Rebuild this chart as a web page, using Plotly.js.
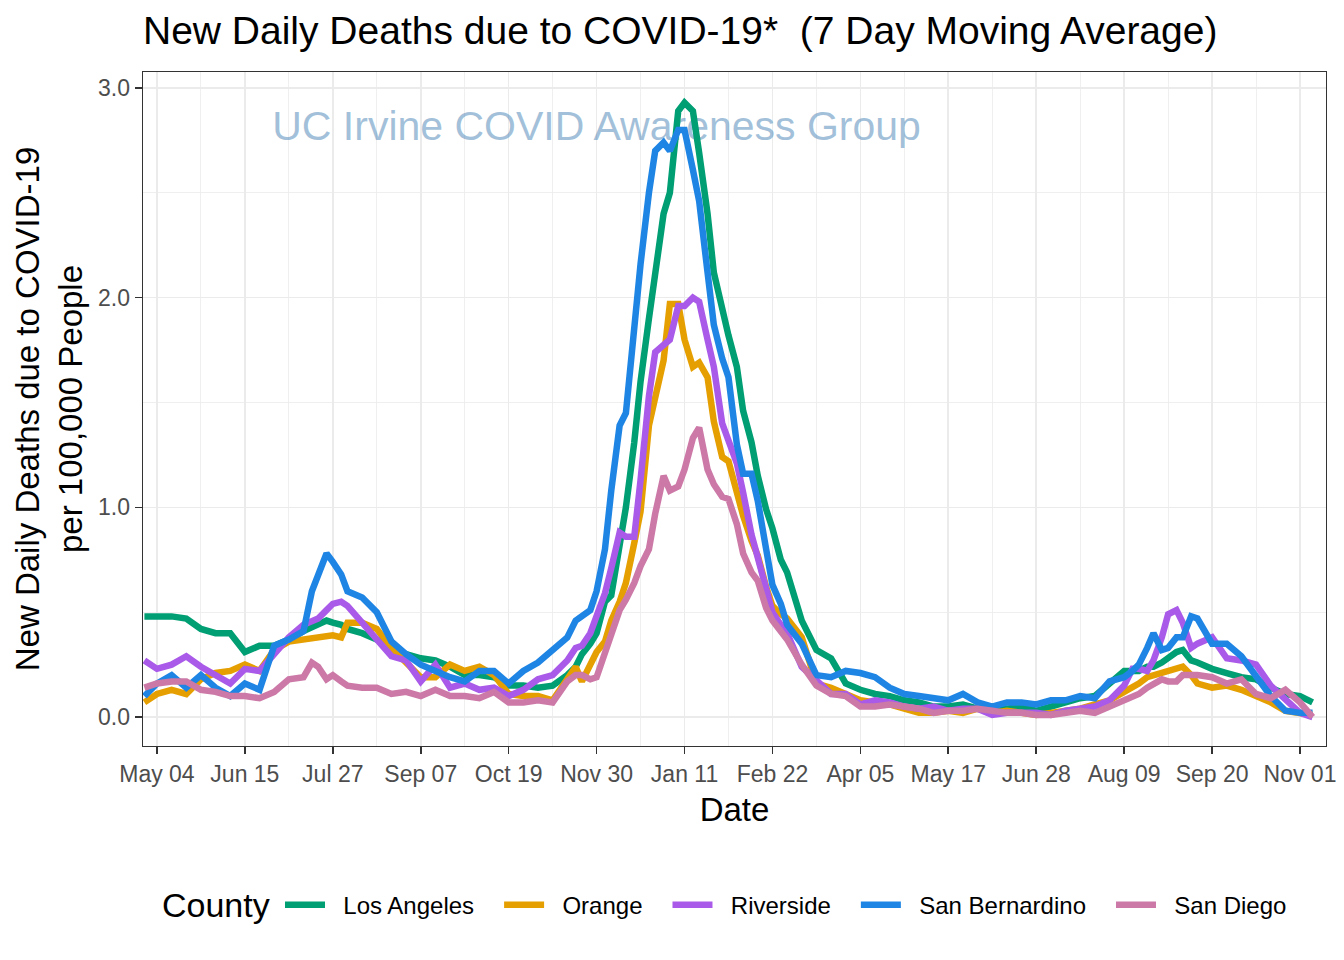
<!DOCTYPE html>
<html><head><meta charset="utf-8">
<script src="https://cdn.plot.ly/plotly-3.0.1.min.js"></script>
<style>body{margin:0;background:#fff}</style>
</head><body>
<div id="chart" style="width:1344px;height:960px"></div>
<script>
const dates = ['2020-04-28','2020-05-04','2020-05-11','2020-05-18','2020-05-25','2020-06-01','2020-06-08','2020-06-15','2020-06-22','2020-06-29','2020-07-06','2020-07-13','2020-07-17','2020-07-20','2020-07-24','2020-07-27','2020-07-31','2020-08-03','2020-08-10','2020-08-17','2020-08-24','2020-08-31','2020-09-07','2020-09-14','2020-09-21','2020-09-28','2020-10-05','2020-10-12','2020-10-19','2020-10-26','2020-11-02','2020-11-09','2020-11-16','2020-11-20','2020-11-23','2020-11-27','2020-11-30','2020-12-04','2020-12-07','2020-12-11','2020-12-14','2020-12-18','2020-12-21','2020-12-25','2020-12-28','2021-01-01','2021-01-04','2021-01-08','2021-01-11','2021-01-15','2021-01-18','2021-01-22','2021-01-25','2021-01-29','2021-02-01','2021-02-05','2021-02-08','2021-02-12','2021-02-15','2021-02-19','2021-02-22','2021-02-26','2021-03-01','2021-03-08','2021-03-15','2021-03-22','2021-03-29','2021-04-05','2021-04-12','2021-04-19','2021-04-26','2021-05-03','2021-05-10','2021-05-17','2021-05-24','2021-05-31','2021-06-07','2021-06-14','2021-06-21','2021-06-28','2021-07-05','2021-07-12','2021-07-19','2021-07-26','2021-08-02','2021-08-09','2021-08-13','2021-08-16','2021-08-20','2021-08-23','2021-08-27','2021-08-30','2021-09-03','2021-09-06','2021-09-10','2021-09-13','2021-09-20','2021-09-27','2021-10-04','2021-10-11','2021-10-18','2021-10-25','2021-11-01','2021-11-07'];

const losAngeles = [0.48,0.48,0.48,0.47,0.42,0.40,0.40,0.31,0.34,0.34,0.37,0.41, 0.43,0.44,0.46,0.45,0.44,0.42, 0.40,0.37,0.33,0.30,0.28,0.27,0.24,0.20,0.20,0.19,0.15,0.15,0.14,0.15,0.20, 0.24,0.30,0.35,0.40,0.55,0.58,0.82,1.00,1.31,1.60,1.90,2.12,2.40,2.50,2.89,2.93,2.89,2.69,2.40,2.12,1.93,1.82,1.67,1.46,1.31,1.15,0.99,0.90,0.75,0.69, 0.46,0.32,0.28,0.16,0.13,0.11,0.10,0.08,0.07,0.05,0.05,0.06,0.04,0.05,0.04,0.05,0.03,0.05,0.07,0.09,0.10,0.16,0.22, 0.22,0.22,0.24,0.24,0.26,0.28,0.31,0.32,0.27,0.26, 0.23,0.21,0.19,0.18,0.14,0.11,0.10,0.07];

const orange = [0.07,0.11,0.13,0.11,0.18,0.21,0.22,0.25,0.22,0.32,0.36,0.37, 0.38,0.38,0.39,0.39,0.38,0.45, 0.45,0.42,0.33,0.26,0.19,0.19,0.25,0.22,0.24,0.20,0.11,0.10,0.10,0.08,0.18, 0.24,0.17,0.25,0.31,0.36,0.46,0.55,0.64,0.83,0.98,1.39,1.52,1.70,1.97,1.97,1.80,1.67,1.69,1.62,1.41,1.24,1.22,1.07,0.96,0.84,0.77,0.62,0.53,0.49,0.47, 0.38,0.16,0.14,0.11,0.08,0.07,0.06,0.04,0.02,0.02,0.03,0.02,0.04,0.02,0.03,0.02,0.01,0.02,0.03,0.04,0.06,0.08,0.12, 0.14,0.16,0.19,0.20,0.21,0.22,0.23,0.24,0.20,0.16, 0.14,0.15,0.13,0.10,0.07,0.03,0.02,0.01];

const riverside = [0.27,0.23,0.25,0.29,0.24,0.20,0.16,0.23,0.22,0.30,0.38,0.44, 0.46,0.47,0.51,0.54,0.55,0.53, 0.45,0.37,0.29,0.27,0.17,0.25,0.14,0.16,0.13,0.14,0.10,0.13,0.18,0.20,0.27, 0.33,0.34,0.40,0.49,0.59,0.71,0.88,0.86,0.86,1.13,1.53,1.74,1.78,1.80,1.96,1.96,2.00,1.98,1.80,1.67,1.40,1.31,1.21,1.07,0.87,0.76,0.60,0.50,0.44,0.40, 0.24,0.18,0.11,0.11,0.06,0.08,0.07,0.05,0.04,0.05,0.03,0.04,0.04,0.01,0.02,0.02,0.02,0.01,0.03,0.04,0.05,0.08,0.15, 0.23,0.23,0.22,0.27,0.38,0.49,0.51,0.45,0.33,0.35, 0.38,0.28,0.27,0.25,0.15,0.09,0.02,0.00];

const sanBernardino = [0.10,0.16,0.20,0.14,0.20,0.14,0.10,0.16,0.13,0.34,0.37,0.41, 0.60,0.68,0.78,0.74,0.68,0.60, 0.57,0.50,0.36,0.30,0.25,0.22,0.19,0.17,0.22,0.22,0.16,0.22,0.26,0.32,0.38, 0.46,0.48,0.51,0.60,0.80,1.08,1.39,1.45,1.88,2.16,2.50,2.70,2.74,2.70,2.80,2.80,2.61,2.46,2.12,1.87,1.71,1.62,1.30,1.16,1.16,1.03,0.80,0.63,0.54,0.44, 0.35,0.20,0.19,0.22,0.21,0.19,0.14,0.11,0.10,0.09,0.08,0.11,0.07,0.05,0.07,0.07,0.06,0.08,0.08,0.10,0.09,0.17,0.19, 0.22,0.25,0.33,0.40,0.32,0.33,0.38,0.38,0.48,0.47, 0.35,0.35,0.29,0.20,0.10,0.03,0.02,0.02];

const sanDiego = [0.14,0.16,0.17,0.17,0.13,0.12,0.10,0.10,0.09,0.12,0.18,0.19, 0.26,0.24,0.18,0.20,0.17,0.15, 0.14,0.14,0.11,0.12,0.10,0.13,0.10,0.10,0.09,0.12,0.07,0.07,0.08,0.07,0.17, 0.20,0.20,0.18,0.19,0.31,0.39,0.51,0.56,0.64,0.72,0.80,0.97,1.15,1.08,1.10,1.18,1.33,1.38,1.18,1.11,1.05,1.04,0.92,0.78,0.69,0.65,0.52,0.46,0.41,0.37, 0.25,0.15,0.11,0.10,0.05,0.05,0.06,0.05,0.04,0.02,0.03,0.03,0.04,0.03,0.02,0.02,0.01,0.01,0.02,0.03,0.02,0.05,0.08, 0.10,0.11,0.14,0.16,0.18,0.17,0.17,0.20,0.20,0.20, 0.19,0.16,0.18,0.11,0.09,0.13,0.07,0.00];

const counties = ['Los Angeles','Orange','Riverside','San Bernardino','San Diego'];
const seriesValues = [losAngeles, orange, riverside, sanBernardino, sanDiego];
const countyColors = ['#009E73','#E69F00','#A95AE8','#1E85E5','#CC79A7'];
const legendTitle = 'County';

const tickDates = ['2020-05-04','2020-06-15','2020-07-27','2020-09-07','2020-10-19','2020-11-30','2021-01-11','2021-02-22','2021-04-05','2021-05-17','2021-06-28','2021-08-09','2021-09-20','2021-11-01'];
const tickLabels = ['May 04','Jun 15','Jul 27','Sep 07','Oct 19','Nov 30','Jan 11','Feb 22','Apr 05','May 17','Jun 28','Aug 09','Sep 20','Nov 01'];
const yTickValues = [0, 1, 2, 3];
const yTickLabels = ['0.0','1.0','2.0','3.0'];

const watermarkText = 'UC Irvine COVID Awareness Group';
const watermarkDate = '2020-11-30';
const watermarkValue = 2.80;

const FONT = 'Liberation Sans, Arial, Helvetica, sans-serif';
const DAY = 86400000;
const NB = '\u00A0';

const traces = [{
  type: 'scatter', mode: 'text', x: [watermarkDate], y: [watermarkValue],
  text: [watermarkText], textposition: 'middle center',
  textfont: {family: FONT, size: 41, color: 'rgba(70,130,180,0.5)'},
  showlegend: false, hoverinfo: 'skip', cliponaxis: false
}];
counties.forEach((name, i) => {
  traces.push({
    type: 'scatter', mode: 'lines',
    name: NB + NB + name + NB + NB + NB,
    x: dates, y: seriesValues[i],
    line: {color: countyColors[i], width: 6.5}
  });
});

const layout = {
  width: 1344, height: 960,
  margin: {l: 143, r: 18, t: 72, b: 214},
  paper_bgcolor: '#ffffff', plot_bgcolor: '#ffffff',
  font: {family: FONT, color: '#000000'},
  title: {
    text: 'New Daily Deaths due to COVID-19*  (7 Day Moving Average)',
    font: {family: FONT, size: 39, color: '#000000'},
    x: 0, xref: 'paper', xanchor: 'left', y: 0.968, yanchor: 'middle'
  },
  xaxis: {
    type: 'date',
    range: ['2020-04-27 08:00', '2021-11-13 10:00'],
    tickmode: 'array', tickvals: tickDates, ticktext: tickLabels,
    ticks: 'outside', ticklen: 7, tickwidth: 1.6, tickcolor: '#333333',
    tickfont: {family: FONT, size: 23, color: '#4D4D4D'},
    showgrid: true, gridcolor: '#EBEBEB', gridwidth: 1.6,
    minor: {tickmode: 'linear', tick0: '2020-05-04', dtick: 21 * DAY, showgrid: true, gridcolor: '#EBEBEB', gridwidth: 0.8, ticks: ''},
    showline: true, linecolor: '#333333', linewidth: 1.4, mirror: true,
    zeroline: false,
    title: {text: 'Date', font: {family: FONT, size: 33, color: '#000000'}, standoff: 12}
  },
  yaxis: {
    range: [-0.138, 3.076],
    tickmode: 'array', tickvals: yTickValues, ticktext: yTickLabels,
    ticks: 'outside', ticklen: 7, tickwidth: 1.6, tickcolor: '#333333',
    tickfont: {family: FONT, size: 23, color: '#4D4D4D'},
    showgrid: true, gridcolor: '#EBEBEB', gridwidth: 1.6,
    minor: {tickmode: 'linear', tick0: 0, dtick: 0.5, showgrid: true, gridcolor: '#EBEBEB', gridwidth: 0.8, ticks: ''},
    showline: true, linecolor: '#333333', linewidth: 1.4, mirror: true,
    zeroline: false,
    title: {text: 'New Daily Deaths due to COVID-19<br>per 100,000 People', font: {family: FONT, size: 33, color: '#000000'}, standoff: 5}
  },
  legend: {
    orientation: 'h', x: 0.1158, xanchor: 'left', y: -0.236, yanchor: 'middle',
    font: {family: FONT, size: 24, color: '#000000'},
    itemwidth: 40, bgcolor: 'rgba(0,0,0,0)'
  },
  annotations: [{
    text: legendTitle, xref: 'paper', yref: 'paper', x: 0.0144, y: -0.236,
    xanchor: 'left', yanchor: 'middle', showarrow: false,
    font: {family: FONT, size: 34, color: '#000000'}
  }],
  showlegend: true
};

Plotly.newPlot('chart', traces, layout, {displayModeBar: false, staticPlot: true});
</script>
</body></html>
